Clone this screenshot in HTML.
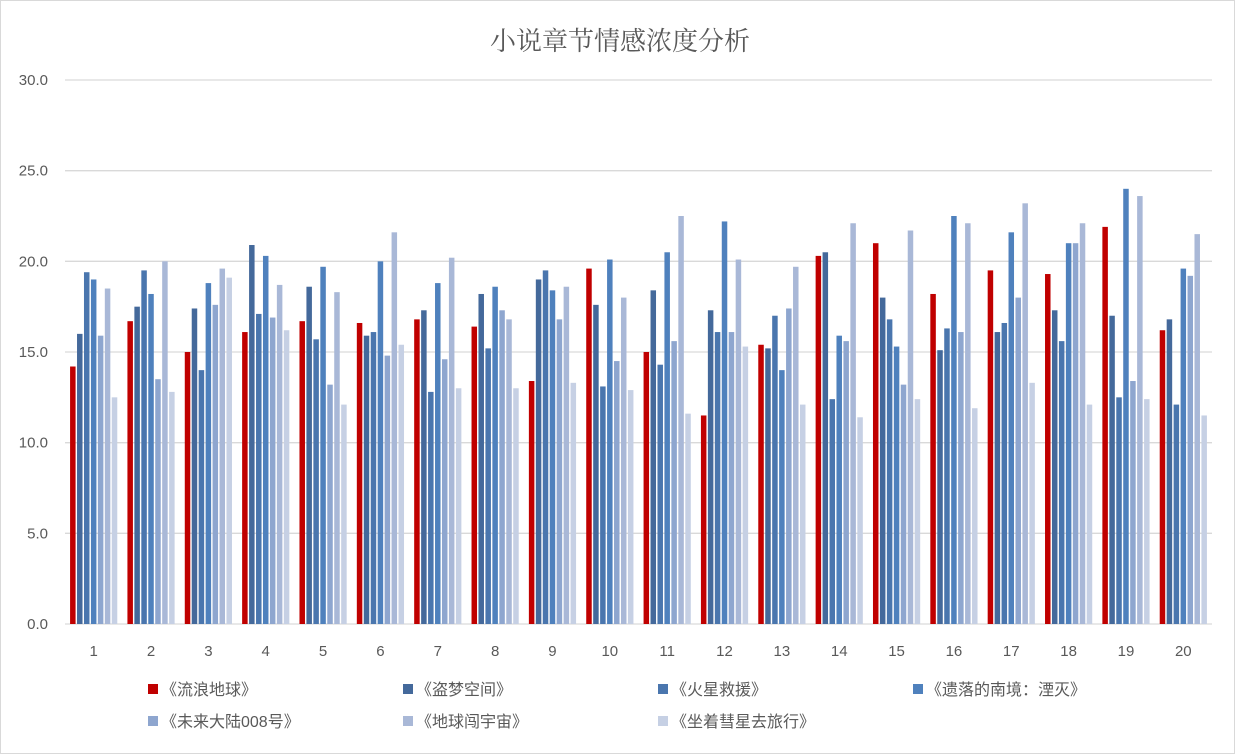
<!DOCTYPE html>
<html><head><meta charset="utf-8"><style>
body{margin:0;background:#fff;}
svg{display:block;font-family:"Liberation Sans","Noto Sans CJK SC",sans-serif;}
</style></head><body>
<svg id="chart" width="1235" height="754">
<rect x="0.5" y="0.5" width="1234" height="753" fill="#fff" stroke="#d9d9d9"/>
<text x="620" y="50" text-anchor="middle" font-size="26" fill="#595959" font-family="'Noto Serif CJK SC',serif">小说章节情感浓度分析</text>
<g id="grid"></g><g id="bars"></g><g id="labels"></g><g id="legend"></g>
</svg>
<script>
const categories=["1","2","3","4","5","6","7","8","9","10","11","12","13","14","15","16","17","18","19","20"];
const seriesNames=["《流浪地球》","《盗梦空间》","《火星救援》","《遗落的南境：湮灭》","《未来大陆008号》","《地球闯宇宙》","《坐着彗星去旅行》"];
const s1=[14.2,16.7,15.0,16.1,16.7,16.6,16.8,16.4,13.4,19.6,15.0,11.5,15.4,20.3,21.0,18.2,19.5,19.3,21.9,16.2];
const s2=[16.0,17.5,17.4,20.9,18.6,15.9,17.3,18.2,19.0,17.6,18.4,17.3,15.2,20.5,18.0,15.1,16.1,17.3,17.0,16.8];
const s3=[19.4,19.5,14.0,17.1,15.7,16.1,12.8,15.2,19.5,13.1,14.3,16.1,17.0,12.4,16.8,16.3,16.6,15.6,12.5,12.1];
const s4=[19.0,18.2,18.8,20.3,19.7,20.0,18.8,18.6,18.4,20.1,20.5,22.2,14.0,15.9,15.3,22.5,21.6,21.0,24.0,19.6];
const s5=[15.9,13.5,17.6,16.9,13.2,14.8,14.6,17.3,16.8,14.5,15.6,16.1,17.4,15.6,13.2,16.1,18.0,21.0,13.4,19.2];
const s6=[18.5,20.0,19.6,18.7,18.3,21.6,20.2,16.8,18.6,18.0,22.5,20.1,19.7,22.1,21.7,22.1,23.2,22.1,23.6,21.5];
const s7=[12.5,12.8,19.1,16.2,12.1,15.4,13.0,13.0,13.3,12.9,11.6,15.3,12.1,11.4,12.4,11.9,13.3,12.1,12.4,11.5];
const yTicks=["0.0","5.0","10.0","15.0","20.0","25.0","30.0"];
const series=[s1,s2,s3,s4,s5,s6,s7];
const colors=["#c00000","#44699b","#4a76ae","#4f81bd","#8ea6cf","#a9b8d7","#c6d0e4"];
const NS="http://www.w3.org/2000/svg";
const L=65,R=1212,Y0=624,Ymax=30,H=544;
const y=v=>Y0-v/Ymax*H;
const band=(R-L)/categories.length;
const x=i=>L+i*band;
function mk(t,a,p){const e=document.createElementNS(NS,t);for(const k in a)e.setAttribute(k,a[k]);p.appendChild(e);return e;}
const grid=document.getElementById('grid'),bars=document.getElementById('bars'),labels=document.getElementById('labels'),legend=document.getElementById('legend');
yTicks.forEach(t=>{const v=parseFloat(t);
 const ln=mk('line',{x1:L,x2:R,y1:y(v),y2:y(v),stroke:'#d9d9d9','stroke-width':1.3},grid);
 
 
 const tx=mk('text',{x:48,y:y(v)+5,'text-anchor':'end','font-size':15,fill:'#595959'},labels);
 tx.textContent=t;
 
 
});
const pitch=6.95,bw=5.5,off=(band-pitch*7+(pitch-bw))/2;
categories.forEach((c,i)=>{
 series.forEach((s,j)=>{
  const r=mk('rect',{x:x(i)+off+j*pitch,y:y(s[i]),width:bw,height:Y0-y(s[i]),fill:colors[j]},bars);
  
  
 });
 const tx=mk('text',{x:x(i)+band/2,y:656,'text-anchor':'middle','font-size':15,fill:'#595959'},labels);
 tx.textContent=c;
 
 
});
seriesNames.forEach((n,j)=>{
 const col=j%4,row=Math.floor(j/4);
 const lx=148+col*255,ly=689+row*32;
 const g=mk('g',{},legend);
 
 
 mk('rect',{x:lx,y:ly-5,width:10,height:10,fill:colors[j]},g);
 const tx=mk('text',{x:lx+13,y:ly+6,'font-size':16,fill:'#595959'},g);
 tx.textContent=n;
});
</script>
</body></html>
